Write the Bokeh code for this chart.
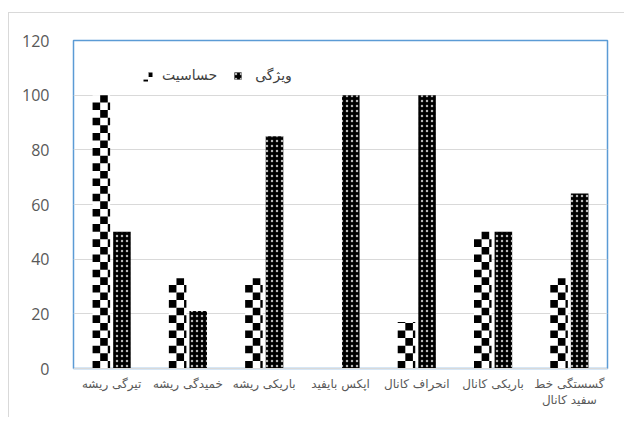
from bokeh.plotting import figure
from bokeh.models import FactorRange, Legend, LegendItem, ColumnDataSource, BoxAnnotation
from bokeh.transform import dodge
from bokeh.embed import file_html
from bokeh.resources import INLINE

categories = ["تیرگی ریشه", "خمیدگی ریشه", "باریکی ریشه", "اپکس بایفید",
              "انحراف کانال", "باریکی کانال", "گسستگی خط\nسفید کانال"]
sensitivity = [100, 33, 33, 0, 17, 50, 33]
specificity = [50, 21, 85, 100, 100, 50, 64]
series_names = ["حساسیت", "ویژگی"]
y_ticks = [0, 20, 40, 60, 80, 100, 120]

OX, OY = 9, 13            # canvas origin on the page (after margin + border)
W, H = 616, 405
BL, BR, BT, BB = 64, 18, 27, 50
frame_w = W - BL - BR
frame_h = H - BT - BB
cat_px = frame_w / len(categories)
unit_px = frame_h / 120.0

bar_w = 0.23
off = 0.135
sq_x = 7.6 / cat_px      # checker square width in category units
sq_y = 7.6 / unit_px     # checker square height in value units

# checker cells derived from the sensitivity values
cl, cr, cb, ct = [], [], [], []
for c, v in zip(categories, sensitivity):
    x0 = -off - bar_w / 2
    ncol = int(bar_w / sq_x) + 1
    row = 0
    y = 0.0
    while y < v:
        y1 = min(y + sq_y, v)
        for col in range(ncol):
            if (row + col) % 2 == 0:
                a = x0 + col * sq_x
                b = min(a + sq_x, x0 + bar_w)
                cl.append((c, a)); cr.append((c, b)); cb.append(y); ct.append(y1)
        y += sq_y
        row += 1

src = ColumnDataSource(dict(cat=categories, sens=sensitivity, spec=specificity))

p = figure(x_range=FactorRange(*categories), y_range=(0, 120),
           width=W, height=H, output_backend="svg", toolbar_location=None,
           min_border_left=BL, min_border_top=BT, min_border_right=BR, min_border_bottom=BB)
p.styles = {"margin-left": "8px", "margin-top": "12px",
            "border-left": "1px solid #d9d9d9", "border-top": "1px solid #d9d9d9"}

r1 = p.vbar(x=dodge("cat", -off, range=p.x_range), top="sens", width=bar_w, source=src,
            fill_color="white", line_color=None)
p.quad(left=cl, right=cr, bottom=cb, top=ct, fill_color="black", line_color=None)
r2 = p.vbar(x=dodge("cat", off, range=p.x_range), top="spec", width=bar_w, source=src,
            fill_color="black", line_color=None,
            hatch_pattern="dot", hatch_color="#b8b8b8", hatch_scale=5, hatch_weight=1)

p.outline_line_color = "#5b9bd5"
p.outline_line_width = 1.5

p.xgrid.grid_line_color = None
p.ygrid.grid_line_color = "#d9d9d9"
p.ygrid.ticker = y_ticks

p.yaxis.ticker = y_ticks
p.yaxis.axis_line_color = None
p.yaxis.major_tick_line_color = None
p.yaxis.minor_tick_line_color = None
p.yaxis.major_label_standoff = 18
p.yaxis.major_label_text_font = "Open Sans"
p.yaxis.major_label_text_font_size = "16px"
p.yaxis.major_label_text_color = "#595959"

p.xaxis.axis_line_color = "#d9d9d9"
p.xaxis.major_tick_line_color = None
p.xaxis.minor_tick_line_color = None
p.xaxis.major_label_standoff = 2
p.xaxis.major_label_text_font = "DejaVu Sans"
p.xaxis.major_label_text_font_size = "12px"
p.xaxis.major_label_text_color = "#595959"

legend = Legend(items=[LegendItem(label=series_names[0], renderers=[r1]),
                       LegendItem(label=series_names[1], renderers=[r2])],
                orientation="horizontal", location=(67, 285),
                glyph_width=9, glyph_height=9, label_standoff=13, spacing=16,
                padding=2, margin=0, border_line_color=None, background_fill_alpha=0,
                label_text_font="DejaVu Sans", label_text_font_size="14px",
                label_text_color="#404040")
p.add_layout(legend)

# checker legend swatch (2x2 squares over the first legend glyph)
gx, gy, s = 142 - OX, 71 - OY, 4.5
for (dx, dy) in [(s, 0), (0, s)]:
    p.add_layout(BoxAnnotation(left=gx + dx, right=gx + dx + s, top=gy + dy, bottom=gy + dy + s,
                               left_units="canvas", right_units="canvas",
                               top_units="canvas", bottom_units="canvas",
                               fill_color="black", fill_alpha=1, line_color=None))

open("out.html", "w").write(file_html(p, INLINE))
